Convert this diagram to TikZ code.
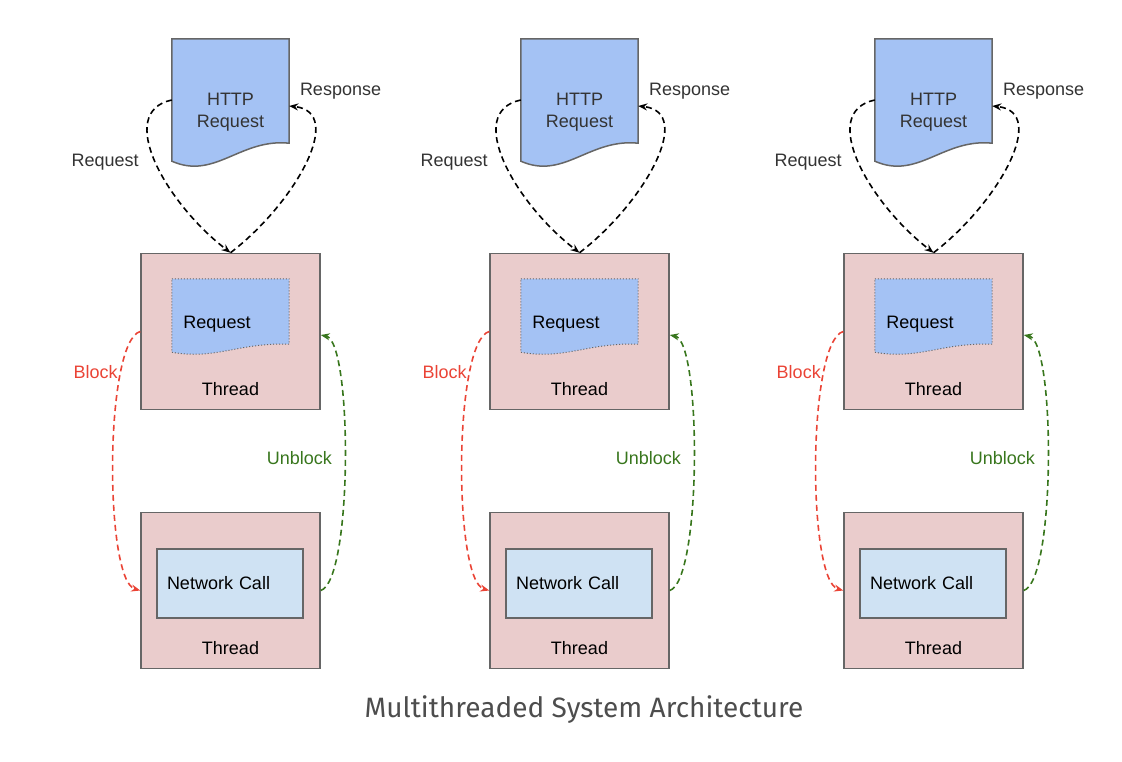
\documentclass[tikz,border=0pt]{standalone}
\usepackage{fontspec}
\setmainfont{Liberation Sans}
\newfontfamily\captionfont{Fira Sans}
\usepackage{xcolor}
\usepackage{tikz}
\usetikzlibrary{shapes,arrows,arrows.meta,positioning}

\definecolor{docblue}{HTML}{A4C2F4}
\definecolor{threadpink}{HTML}{EACCCC}
\definecolor{callblue}{HTML}{CFE2F3}
\definecolor{blockred}{HTML}{EA4335}
\definecolor{unblockgreen}{HTML}{38761D}
\definecolor{edgegray}{HTML}{666666}
\definecolor{labelgray}{HTML}{333333}
\definecolor{captiongray}{HTML}{4D4D4D}

\begin{document}
\begin{tikzpicture}[x=1pt, y=-1pt, font=\fontsize{18}{22}\selectfont]

\tikzstyle{thread} = [rectangle, minimum width=179pt, minimum height=156pt, draw=edgegray, line width=1.5pt, fill=threadpink]
\tikzstyle{call} = [rectangle, text width=126pt, inner xsep=10pt, minimum height=69pt, align=left, draw=edgegray, line width=1.5pt, fill=callblue]
\tikzstyle{docbox} = [rectangle, minimum width=117pt, inner sep=0pt]
\tikzstyle{doc} = [draw=edgegray, line width=1.5pt, fill=docblue]
\tikzstyle{innerdoc} = [draw=edgegray, line width=1pt, dotted, fill=docblue]
\tikzstyle{lbl} = [inner sep=2pt, text=labelgray]
\tikzstyle{arrow} = [line width=1.6pt, ->, >={Stealth[length=9pt,width=7pt]}, dash pattern=on 6pt off 4pt]

\useasboundingbox (0,0) rectangle (1122,762);

\foreach \i/\dx in {1/0, 2/349, 3/703} {
  % document and threads of one column
  \node (httpbox\i) [docbox, minimum height=122pt] at (230.5+\dx,100) {};
  \draw [doc] (httpbox\i.north west) -- (httpbox\i.north east) -- ([yshift=18pt]httpbox\i.south east)
    .. controls ([xshift=-49pt,yshift=23pt]httpbox\i.south east) and ([xshift=43pt,yshift=-19pt]httpbox\i.south west) .. (httpbox\i.south west) -- cycle;
  \node (httptext\i) [align=center, text=labelgray] at (230.5+\dx,112) {HTTP\\Request};

  \node (threadtop\i) [thread] at (230.5+\dx,331.5) {};
  \node (threadbot\i) [thread] at (230.5+\dx,590.5) {};
  \node (toplabel\i) [above=11pt of threadtop\i.south] {Thread};
  \node (botlabel\i) [above=11pt of threadbot\i.south] {Thread};

  \node (reqbox\i) [docbox, minimum height=73pt] at (230.5+\dx,315.5) {};
  \draw [innerdoc] (reqbox\i.north west) -- (reqbox\i.north east) -- ([yshift=8pt]reqbox\i.south east)
    .. controls ([xshift=-49pt,yshift=10pt]reqbox\i.south east) and ([xshift=43pt,yshift=-8pt]reqbox\i.south west) .. (reqbox\i.south west) -- cycle;
  \node (reqtext\i) at (217+\dx,324) {Request};

  \node (call\i) [call] at (230+\dx,583.5) {Network Call};

  % connectors
  \draw [arrow] (httpbox\i.west)
    .. controls ([xshift=-57pt,yshift=-12pt]httpbox\i.west) and ([xshift=-65pt,yshift=50pt]threadtop\i.north) .. (threadtop\i.north)
    node[lbl, pos=0.5, left=14pt] {Request};
  \draw [arrow] (threadtop\i.north)
    .. controls ([xshift=65pt,yshift=50pt]threadtop\i.north) and ([xshift=57pt,yshift=-12pt]httpbox\i.east) .. ([yshift=-6pt]httpbox\i.east)
    node[lbl, pos=1, anchor=south west, xshift=8pt, yshift=4pt] {Response};
  \draw [arrow, blockred] (threadtop\i.west)
    .. controls ([xshift=-36pt,yshift=-10pt]threadtop\i.west) and ([xshift=-36pt,yshift=10pt]threadbot\i.west) .. (threadbot\i.west)
    node[lbl, text=blockred, pos=0.24, left=0pt] {Block};
  \draw [arrow, unblockgreen] (threadbot\i.east)
    .. controls ([xshift=32pt,yshift=10pt]threadbot\i.east) and ([xshift=32pt,yshift=-10pt]threadtop\i.east) .. ([yshift=-3.5pt]threadtop\i.east)
    node[lbl, text=unblockgreen, pos=0.51, left=10pt] {Unblock};
}

\node (caption) [text=captiongray] at (584,710) {\captionfont\fontsize{28}{33}\selectfont Multithreaded System Architecture};

\end{tikzpicture}
\end{document}
